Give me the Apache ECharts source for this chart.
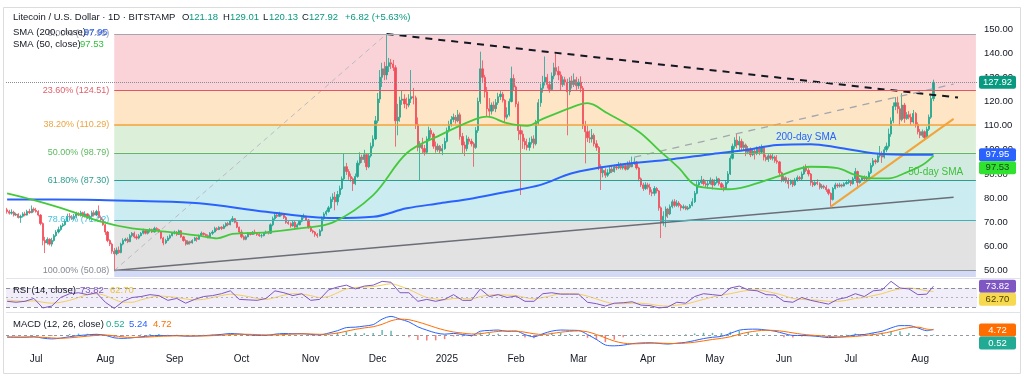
<!DOCTYPE html>
<html><head><meta charset="utf-8">
<script src="https://cdn.jsdelivr.net/npm/echarts@6/dist/echarts.min.js"></script>
<style>html,body{margin:0;padding:0;background:#fff}#c{width:1024px;height:378px}</style>
</head><body><div id="c"></div><script>
// ---------- categories (daily, 2024-06-18 .. 2025-08-26) ----------
const startUTC = Date.UTC(2024, 5, 18);
const dayCount = 435;
const categories = [];
for (let k = 0; k < dayCount; k++) categories.push(new Date(startUTC + k * 864e5).toISOString().slice(0, 10));
const monthTicks = {'2024-07-01':'Jul','2024-08-01':'Aug','2024-09-01':'Sep','2024-10-01':'Oct','2024-11-01':'Nov','2024-12-01':'Dec','2025-01-01':'2025','2025-02-01':'Feb','2025-03-01':'Mar','2025-04-01':'Apr','2025-05-01':'May','2025-06-01':'Jun','2025-07-01':'Jul','2025-08-01':'Aug'};
const priceTicks = [50,60,70,80,90,100,110,120,130,140,150];

// ---------- daily OHLC (open = previous close) ----------
const firstOpen = 75.2;
const closes = [
74.5,73.8,74.2,73.0,73.4,72.0,72.5,73.5,73.0,74.5,74.0,75.5,75.0,
74.5,73.0,69.5,62.5,61.5,63.0,61.0,62.5,64.5,66.0,67.0,68.5,69.0,70.5,72.5,72.0,71.5,72.5,73.5,73.0,74.0,72.5,73.5,72.0,72.5,74.0,73.0,74.5,72.0,71.0,69.0,
66.0,62.5,61.0,58.0,57.0,58.5,57.5,61.0,62.5,63.0,62.0,64.5,65.5,64.0,63.5,64.5,65.5,66.5,65.5,66.5,67.0,66.0,67.5,67.0,66.0,63.5,61.5,62.5,63.5,64.5,65.5,
66.0,65.0,66.5,64.0,62.5,61.0,62.0,61.5,62.5,63.5,63.0,64.5,65.5,65.0,64.5,64.0,65.5,66.0,67.5,67.0,68.0,67.5,68.5,69.5,69.0,70.5,71.5,70.0,68.0,66.0,
64.0,63.0,64.0,65.5,65.0,66.0,65.5,65.0,64.5,64.5,65.5,66.0,65.5,69.0,71.5,73.0,72.5,73.5,73.0,72.0,70.0,69.5,68.5,70.0,68.0,69.0,70.5,72.0,72.5,71.0,68.0,
66.5,66.0,65.0,64.5,66.5,71.5,73.5,74.5,76.0,79.5,80.5,78.5,81.5,84.0,88.0,93.0,91.0,89.0,88.0,86.0,89.0,94.5,97.0,96.0,98.0,93.0,97.5,101.5,104.5,112.0,
121.0,130.0,133.5,131.0,134.5,136.0,135.5,134.0,112.0,113.5,120.5,121.0,119.0,118.5,121.0,122.0,121.5,110.5,101.0,102.0,100.5,99.0,104.5,108.0,106.5,101.5,100.0,101.5,99.5,100.5,103.5,
108.0,110.5,112.5,113.5,112.0,114.5,105.5,102.0,100.5,104.5,103.5,102.5,101.0,108.0,120.0,133.5,130.0,124.0,117.0,116.0,118.5,117.0,119.5,122.0,123.0,120.5,113.5,114.5,120.0,129.5,126.0,
119.0,108.0,106.5,103.5,102.0,101.0,103.0,104.5,102.5,111.0,119.5,125.5,128.0,130.0,127.0,125.0,130.5,134.0,132.5,131.0,127.0,129.0,128.0,124.0,128.5,127.0,129.0,126.5,
128.0,125.5,110.0,107.5,105.0,104.5,106.0,102.5,101.0,93.0,90.5,91.5,89.5,90.5,92.0,91.0,93.0,92.5,94.0,92.5,93.5,92.0,94.5,93.0,94.5,95.0,92.5,88.0,85.5,84.0,85.5,
84.5,82.5,82.0,84.0,83.0,76.0,70.0,72.5,75.5,73.5,76.5,78.5,77.0,78.0,77.0,76.0,76.5,75.5,76.0,77.0,78.5,82.0,85.5,86.5,87.5,86.0,85.5,86.0,87.5,85.5,
86.5,88.0,86.0,84.5,84.0,86.5,90.0,96.5,101.5,104.0,102.0,103.5,101.0,102.0,99.0,100.5,98.0,99.5,98.5,100.5,99.0,101.0,97.0,96.0,97.5,96.5,97.0,95.5,95.0,90.5,87.5,
88.5,87.0,86.0,87.0,85.5,87.5,88.5,88.0,90.0,92.5,91.5,90.0,86.5,85.5,86.5,86.0,84.5,85.0,84.5,83.5,82.0,79.5,84.0,85.5,85.0,85.5,85.0,86.0,86.5,87.0,
86.0,88.0,91.0,86.5,87.5,88.5,88.0,88.5,90.5,93.5,95.5,95.0,97.5,98.5,97.0,100.0,101.5,106.5,112.0,118.0,119.5,117.0,112.5,118.5,113.0,114.5,113.5,111.5,115.0,110.5,107.5,
106.0,107.5,105.0,108.5,113.5,121.18,127.92];
const highs = [
76.0,75.2,75.4,74.8,74.0,73.8,73.2,74.2,74.4,75.2,75.6,77.0,76.2,
76.0,75.0,73.4,70.0,64.0,63.8,63.4,63.6,65.2,66.8,68.2,69.0,69.8,71.2,73.6,73.8,73.0,73.5,74.4,74.2,74.8,74.4,74.6,73.8,73.2,74.8,75.0,75.2,77.0,72.8,71.6,
69.4,66.4,63.0,61.6,59.4,59.6,60.0,61.6,63.4,63.6,63.8,65.2,66.0,66.2,65.0,65.2,66.0,67.4,67.0,67.2,67.6,67.4,68.2,68.0,67.4,66.2,64.0,63.2,64.4,65.0,66.0,
66.6,66.4,67.0,66.8,64.4,63.0,62.6,62.4,63.0,64.0,64.0,65.0,66.2,65.8,65.4,65.0,66.0,66.8,68.2,68.0,68.4,68.4,69.2,70.0,70.2,71.2,72.6,71.8,70.4,68.2,
67.0,64.6,64.6,66.0,65.8,66.4,67.0,66.0,65.6,65.2,66.0,66.6,66.4,69.6,72.4,73.8,73.6,74.4,74.0,73.4,72.6,70.6,70.0,70.6,70.6,69.6,71.0,72.6,73.6,72.8,71.4,
68.6,67.0,66.4,65.6,67.2,72.4,74.2,75.2,76.8,80.6,82.0,82.6,83.0,85.2,89.0,98.6,94.6,92.0,90.2,88.6,90.2,95.6,99.0,98.0,100.0,98.6,98.6,103.0,106.0,114.0,
123.5,133.0,136.0,136.4,147.95,138.0,137.6,137.2,135.0,119.0,122.0,124.6,123.0,121.6,123.0,133.0,125.6,122.4,113.4,103.6,105.0,102.0,105.6,109.6,109.0,107.2,103.4,102.6,102.0,102.4,105.0,
109.2,112.0,114.0,115.0,114.4,116.5,115.4,107.0,103.4,106.0,105.4,104.6,103.2,109.4,121.6,140.6,137.0,131.0,126.0,121.4,119.6,120.0,121.0,123.6,124.4,124.0,121.0,117.6,121.2,134.4,131.2,
126.6,120.0,110.0,108.0,105.0,104.6,105.0,105.6,106.0,112.4,121.0,127.4,130.6,138.6,131.4,128.4,132.0,136.0,140.0,134.6,132.4,130.4,130.2,129.4,130.0,130.6,131.6,130.2,
129.4,130.4,126.4,112.0,110.0,108.0,108.6,106.8,104.0,101.6,94.0,93.0,92.4,92.0,93.0,93.4,93.8,94.0,95.0,94.6,94.2,94.0,95.2,95.6,97.2,96.8,95.4,93.0,88.6,86.4,86.6,
86.4,86.0,83.6,85.0,84.6,83.4,76.6,74.6,76.6,76.0,77.4,79.4,79.6,79.2,78.8,77.6,77.4,77.0,76.8,77.6,80.0,83.0,87.0,87.6,89.2,88.0,87.0,87.4,88.6,88.0,
87.8,89.0,88.4,86.6,85.6,87.2,91.2,97.6,102.6,105.2,106.8,105.6,104.6,103.4,102.6,101.6,101.0,100.6,100.4,101.4,101.6,102.2,101.6,98.0,98.2,98.2,98.4,97.6,97.8,95.4,91.0,
89.4,89.0,88.4,87.8,87.6,88.4,89.4,89.2,91.0,93.4,94.0,92.4,90.4,87.2,87.0,87.8,86.6,85.8,85.6,85.4,84.0,82.4,84.6,86.4,86.2,86.4,86.0,86.6,87.2,87.8,
87.4,88.8,92.5,91.4,88.2,89.0,89.4,89.2,91.2,94.6,96.6,96.2,98.4,101.6,99.4,101.2,103.0,108.8,113.4,119.6,121.8,122.0,118.0,123.4,119.4,115.6,116.0,115.0,116.5,115.6,111.4,
108.6,108.4,108.0,109.6,114.6,122.4,129.01];
const lows = [
73.6,73.2,73.2,72.4,72.6,71.6,69.8,72.0,72.5,72.8,73.5,73.8,74.2,
74.0,72.5,68.8,60.5,57.3,60.8,60.4,60.0,62.0,64.0,65.4,66.5,68.0,68.6,70.2,71.0,71.0,70.8,71.8,72.6,72.4,72.0,72.0,71.4,70.8,72.2,72.4,72.6,71.6,70.4,68.6,
64.8,61.8,60.2,57.0,50.08,56.4,57.0,57.2,60.5,62.0,61.4,61.8,63.8,63.4,62.8,63.0,64.2,65.0,65.0,65.0,65.8,65.6,65.8,66.4,65.6,63.0,60.5,61.0,62.2,63.0,64.2,
65.0,64.4,64.8,63.6,62.0,60.4,60.8,60.8,61.2,62.2,62.0,62.8,64.2,64.6,64.0,63.4,63.8,64.8,65.8,66.4,66.8,66.8,67.2,68.0,68.4,68.8,70.2,69.6,67.6,65.4,
63.4,62.6,62.6,63.8,64.6,64.8,65.0,64.4,64.0,63.6,64.2,65.2,65.0,65.2,68.4,71.0,71.8,72.2,72.6,71.4,69.4,69.0,67.8,68.2,67.4,67.8,68.8,70.0,71.6,70.6,67.4,
66.0,65.4,64.0,63.6,64.2,66.2,71.0,72.8,74.0,75.6,78.4,75.0,77.0,80.4,83.4,87.4,89.6,87.6,86.8,83.0,85.4,88.4,93.6,94.6,94.6,91.6,92.4,96.8,100.6,104.0,
111.0,119.4,126.0,128.8,129.0,132.2,133.4,132.6,101.3,106.0,111.6,118.6,117.2,116.8,117.6,119.4,118.8,108.6,99.4,87.5,98.6,97.6,98.2,103.6,105.0,100.4,98.8,99.2,98.6,97.8,100.0,
103.0,107.2,109.6,111.4,110.8,111.4,104.2,98.6,97.4,99.4,102.2,101.4,93.0,100.4,107.0,119.0,127.6,121.6,113.8,113.6,114.6,116.0,115.6,118.6,120.6,119.6,111.0,112.6,113.8,119.6,124.4,
117.6,104.0,81.3,100.4,100.2,99.8,99.6,102.2,100.6,101.8,110.2,117.8,123.6,126.6,125.4,123.6,124.4,129.2,131.0,128.8,124.6,126.0,126.6,106.0,122.6,125.4,126.0,124.8,
125.2,123.8,108.6,94.4,103.2,102.8,103.0,101.4,99.6,91.6,83.4,88.6,88.4,88.8,90.0,90.4,90.6,91.6,92.0,91.8,91.8,91.4,91.6,92.4,92.8,93.8,91.8,87.0,84.6,83.0,83.4,
83.6,81.4,80.8,81.0,82.0,74.8,63.5,68.6,68.0,71.8,73.0,75.8,76.2,76.4,76.2,74.8,75.4,75.0,75.0,75.6,76.6,78.0,81.6,84.4,85.8,85.2,84.6,84.0,85.6,83.6,
85.0,86.0,85.2,83.8,82.8,83.4,85.8,89.6,96.0,100.4,100.6,99.4,99.4,99.6,97.4,98.2,97.0,97.4,96.0,97.8,97.8,98.4,95.6,95.2,95.0,95.8,95.6,94.6,94.2,89.4,86.6,
86.8,86.2,84.0,85.4,84.6,85.0,86.8,87.2,87.4,89.6,90.8,89.0,85.2,84.6,85.0,85.4,83.6,83.8,83.8,82.6,81.2,76.5,79.0,83.6,84.2,84.4,84.4,84.8,85.6,85.8,
85.0,85.6,87.6,84.0,86.0,87.0,87.2,87.2,88.0,90.0,92.8,94.0,94.6,96.8,94.6,96.4,99.0,100.6,105.4,111.0,116.4,115.0,110.0,111.8,111.2,112.4,112.6,110.2,110.8,109.2,106.4,
104.8,105.2,104.0,104.6,107.8,112.8,120.13];

// ---------- moving averages read at sample days [dayIndex, value] ----------
const sma200 = [[0,79.5],[20,79.5],[41,79.3],[60,78.8],[86,77.9],[116,74.4],[146,71.8],[164,72.3],[179,75.8],[194,77.9],[209,80.0],[224,82.7],[239,85.5],[253,90.3],[271,93.4],[298,96.1],[316,98.3],[331,99.9],[345,102.0],[360,102.3],[372,101.0],[388,98.6],[402,98.0],[415,97.95]];
const sma50 = [[0,82.0],[12,79.2],[27,75.1],[42,70.3],[56,67.5],[72,66.1],[86,64.5],[94,63.4],[101,65.2],[116,65.9],[131,67.5],[146,70.0],[164,81.3],[179,98.6],[194,106.1],[209,112.4],[215,113.7],[224,111.0],[233,109.9],[239,112.4],[253,117.6],[260,119.3],[269,115.1],[283,107.5],[292,99.9],[301,92.4],[308,85.5],[316,84.1],[323,83.7],[331,84.8],[345,88.9],[360,93.0],[372,92.4],[380,89.6],[388,88.2],[395,88.2],[402,90.3],[410,93.7],[415,97.53]];

// ---------- indicator readings, every 4th day + last day ----------
const indIdx = [];
for (let i = 0; i <= 412; i += 4) indIdx.push(i);
indIdx.push(415);
const rsiVals = [42,40,42,48,28,32,50,58,60,56, 60,40,27,42,50,52,56,54,44,48, 38,46,52,54,58,64,46,45,44,48, 64,60,54,58,44,46,66,72,76,68, 74,76,84,82,60,60,42,46,42,46, 56,44,44,68,52,56,50,53,42,42, 58,60,57,57,57,40,37,32,38,39, 41,34,33,28,30,40,38,52,58,56, 54,70,74,66,64,56,55,42,40,50, 44,40,36,46,50,58,52,64,66,84, 70,68,56,57,73.82];
const rsiMaVals = [45,43,42,43,40,38,40,44,50,56, 58,54,46,40,40,45,50,53,52,50, 47,45,46,50,54,57,55,52,48,46, 50,55,58,57,54,50,52,60,68,71, 72,73,76,79,74,67,58,50,47,45, 48,48,47,52,55,56,55,54,50,47, 50,54,58,58,57,53,47,41,37,37, 38,38,36,33,32,34,36,41,46,51, 55,58,62,65,66,63,59,54,48,46, 45,44,42,42,44,48,50,54,58,64, 68,70,68,64,62.70];
const macdVals = [-2.0,-2.0,-2.0,-1.5,-2.8,-3.5,-2.8,-1.5,-0.5,0.2, 0.7,-0.2,-2.5,-3.0,-2.5,-1.6,-0.8,-0.3,-0.5,-0.4, -1.0,-0.9,-0.5,0.0,0.6,1.4,1.0,0.2,-0.2,-0.3, 0.8,1.4,1.2,1.3,0.6,0.1,1.8,4.0,6.8,7.2, 8.2,9.5,14.5,17.0,14.5,12.0,7.5,4.5,2.0,0.8, 1.5,0.5,-0.5,3.5,4.2,4.6,3.4,3.6,0.4,-1.6, 1.2,3.6,4.6,4.4,4.2,0.5,-4.0,-9.0,-9.8,-9.2, -7.8,-7.2,-7.0,-7.6,-8.2,-7.4,-6.6,-5.0,-3.2,-2.0, -1.2,1.5,4.5,5.3,5.4,4.6,3.5,1.4,-0.3,-0.4, -0.7,-1.4,-2.3,-2.0,-1.3,0.2,0.5,2.0,3.5,6.5, 8.6,8.6,6.5,4.0,5.24];
const signalVals = [-1.5,-1.8,-1.9,-1.8,-2.0,-2.6,-2.9,-2.5,-1.8,-1.0, -0.3,0.1,-0.7,-1.7,-2.2,-2.1,-1.7,-1.2,-0.9,-0.7, -0.7,-0.8,-0.8,-0.5,-0.2,0.4,0.8,0.7,0.4,0.1, 0.1,0.5,0.9,1.1,1.0,0.7,0.9,1.8,3.5,5.2, 6.5,7.6,9.8,13.0,14.5,14.0,12.0,9.5,6.8,4.5, 2.8,1.8,1.0,1.2,2.4,3.3,3.7,3.6,2.6,1.2, 0.5,1.4,2.6,3.4,3.8,3.0,0.5,-2.5,-5.5,-7.3, -8.0,-7.8,-7.4,-7.3,-7.6,-7.7,-7.3,-6.5,-5.3,-4.0, -3.0,-1.5,0.7,2.6,3.8,4.4,4.2,3.3,2.0,0.8, 0.0,-0.6,-1.3,-1.7,-1.7,-1.2,-0.5,0.4,1.5,3.1, 5.2,6.8,7.2,5.4,4.72];
const histVals = [-0.5,-0.2,-0.1,0.3,-0.8,-0.9,0.1,1.0,1.3,1.2, 1.0,-0.3,-1.8,-1.3,-0.3,0.5,0.9,0.9,0.4,0.3, -0.3,-0.1,0.3,0.5,0.8,1.0,0.2,-0.5,-0.6,-0.4, 0.7,0.9,0.3,0.2,-0.4,-0.6,0.9,2.2,3.3,2.0, 1.7,1.9,4.7,4.0,0.0,-2.0,-4.5,-5.0,-4.8,-3.7, -1.3,-1.3,-1.5,2.3,1.8,1.3,-0.3,0.0,-2.2,-2.8, 0.7,2.2,2.0,1.0,0.4,-2.5,-4.5,-6.5,-4.3,-1.9, 0.2,0.6,0.4,-0.3,-0.6,0.3,0.7,1.5,2.1,2.0, 1.8,3.0,3.8,2.7,1.6,0.2,-0.7,-1.9,-2.3,-1.2, -0.7,-0.8,-1.0,-0.3,0.4,1.4,1.0,1.6,2.0,3.4, 3.4,1.8,-0.7,-1.4,0.52];

// ---------- fibonacci retracement (anchor Aug 5 2024 low -> Dec 5 2024 high) ----------
const fibStart = 48, fibEnd = 434;
const fibLevels = [
 {label:'0.00% (147.95)', value:147.95, line:'#a3a6af', text:'#9598a1', w:1},
 {label:'23.60% (124.51)', value:124.51, line:'#e25563', text:'#e0606c', w:1},
 {label:'38.20% (110.29)', value:110.29, line:'#f5a23a', text:'#eea441', w:1.6},
 {label:'50.00% (98.79)', value:98.79, line:'#62b766', text:'#5db85f', w:1},
 {label:'61.80% (87.30)', value:87.30, line:'#2a9d8f', text:'#2a9d8f', w:1},
 {label:'78.60% (71.02)', value:71.02, line:'#3cb2bd', text:'#3fbfdc', w:1},
 {label:'100.00% (50.08)', value:50.08, line:'#8e919a', text:'#868993', w:1}
];
const fibZones = [
 {from:124.51, to:147.95, color:'#f9d3d7'},
 {from:110.29, to:124.51, color:'#fde5c6'},
 {from:98.79, to:110.29, color:'#dcefd8'},
 {from:87.30, to:98.79, color:'#d2ebe0'},
 {from:71.02, to:87.30, color:'#cbecf1'},
 {from:50.08, to:71.02, color:'#e2e2e2'},
 {from:47.4, to:50.08, color:'#d3daf5'}
];
const trendLines = [
 {pts:[[48,50.08],[170,147.95]], color:'#b9bcc4', width:1, type:[5,4]},
 {pts:[[170,147.95],[426,121.6]], color:'#131722', width:2, type:[7,6]},
 {pts:[[281,97.0],[424,127.2]], color:'#a3a6ae', width:1.3, type:[7,6]},
 {pts:[[48,50.08],[424,80.4]], color:'#6b6e78', width:1.5, type:'solid'},
 {pts:[[369,76.5],[424,112.8]], color:'#f2a43a', width:2, type:'solid'}
];
const lastPrice = 127.92;

// ---------- build ----------
const FONT = '"Liberation Sans", Arial, sans-serif';
const cat = i => categories[i];
const candles = closes.map((c, i) => [i ? closes[i - 1] : firstOpen, c, lows[i], highs[i]]);
const pairs = arr => arr.map(([i, v]) => [cat(i), v]);
const indPairs = vals => vals.map((v, k) => [cat(indIdx[k]), v]);

const chart = echarts.init(document.getElementById('c'), null, {renderer:'canvas'});
const xAxes = [0,1,2].map(g => ({
  type:'category', gridIndex:g, data:categories, boundaryGap:true,
  axisLine:{show:false}, axisTick:{show:false}, splitLine:{show:false},
  axisLabel: g === 2 ? {show:true, interval:(i, v) => v in monthTicks, formatter:v => monthTicks[v] || '', color:'#131722', fontSize:10, fontFamily:FONT, margin:4, hideOverlap:false} : {show:false}
}));
const series = [];
series.push({
  type:'candlestick', name:'LTC', xAxisIndex:0, yAxisIndex:0, data:candles, barWidth:1.7, z:3,
  itemStyle:{color:'#1fa58f', color0:'#f24c5a', borderColor:'#1fa58f', borderColor0:'#f24c5a', borderWidth:0.8},
  markArea:{silent:true, z:1, data: fibZones.map(z => [{xAxis:cat(fibStart), yAxis:z.from, itemStyle:{color:z.color, opacity:1}}, {xAxis:cat(fibEnd), yAxis:z.to}])},
  markLine:{silent:true, symbol:'none', animation:false,
    data: fibLevels.map(f => [{xAxis:cat(fibStart), yAxis:f.value, lineStyle:{color:f.line, width:f.w, type:'solid'},
        label:{show:true, position:'start', distance:5, formatter:f.label, color:f.text, fontSize:9, fontFamily:FONT}},
      {xAxis:cat(fibEnd), yAxis:f.value}]).concat([
      {yAxis:lastPrice, lineStyle:{type:'dotted', color:'#8a8d96', width:1}, label:{show:false}}])}
});
trendLines.forEach(t => series.push({type:'line', xAxisIndex:0, yAxisIndex:0, data:pairs(t.pts), symbol:'none', silent:true, z:4,
  lineStyle:{color:t.color, width:t.width, type:t.type}}));
series.push({type:'line', name:'SMA200', xAxisIndex:0, yAxisIndex:0, data:pairs(sma200), smooth:0.35, symbol:'none', z:5, lineStyle:{color:'#2962ff', width:2}});
series.push({type:'line', name:'SMA50', xAxisIndex:0, yAxisIndex:0, data:pairs(sma50), smooth:0.35, symbol:'none', z:5, lineStyle:{color:'#45c93c', width:1.8}});
// RSI
series.push({type:'line', name:'RSI', xAxisIndex:1, yAxisIndex:1, data:indPairs(rsiVals), symbol:'none', z:5, lineStyle:{color:'#7e57c2', width:1},
  markArea:{silent:true, data:[[{yAxis:30, itemStyle:{color:'rgba(126,87,194,0.10)'}},{yAxis:70}]]},
  markLine:{silent:true, symbol:'none', label:{show:false}, lineStyle:{color:'#8d909a', type:[4,3], width:1},
    data:[{yAxis:70},{yAxis:50, lineStyle:{color:'#b0b3bb', type:[2,3]}},{yAxis:30}]}});
series.push({type:'line', name:'RSI MA', xAxisIndex:1, yAxisIndex:1, data:indPairs(rsiMaVals), symbol:'none', smooth:0.3, z:4, lineStyle:{color:'#f1cf5e', width:1}});
// MACD
series.push({type:'bar', name:'Hist', xAxisIndex:2, yAxisIndex:2, barWidth:1.5,
  data: histVals.map((v, k) => ({value:[cat(indIdx[k]), v], itemStyle:{color: v >= 0 ? 'rgba(38,166,154,0.75)' : 'rgba(239,83,80,0.75)'}})),
  markLine:{silent:true, symbol:'none', label:{show:false}, lineStyle:{color:'#9598a1', type:[3,3], width:1}, data:[{yAxis:0}]}});
series.push({type:'line', name:'MACD', xAxisIndex:2, yAxisIndex:2, data:indPairs(macdVals), symbol:'none', smooth:0.3, z:5, lineStyle:{color:'#2962ff', width:1}});
series.push({type:'line', name:'Signal', xAxisIndex:2, yAxisIndex:2, data:indPairs(signalVals), symbol:'none', smooth:0.3, z:5, lineStyle:{color:'#ff6d00', width:1}});

const option = {
  animation:false, backgroundColor:'#ffffff',
  grid:[{left:6, right:47, top:20, height:257},{left:6, right:47, top:279, height:32},{left:6, right:47, top:313, height:37}],
  xAxis:xAxes,
  yAxis:[
    {type:'value', gridIndex:0, position:'right', min:47.4, max:153.7, splitLine:{show:false}, axisLine:{show:false}, axisTick:{show:false},
     axisLabel:{customValues:priceTicks, formatter:v => Number(v).toFixed(2), color:'#131722', fontSize:9.5, margin:7, fontFamily:FONT}},
    {type:'value', gridIndex:1, position:'right', min:21.6, max:88.9, splitLine:{show:false}, axisLine:{show:false}, axisTick:{show:false}, axisLabel:{show:false}},
    {type:'value', gridIndex:2, position:'right', min:-13.6, max:20.1, splitLine:{show:false}, axisLine:{show:false}, axisTick:{show:false}, axisLabel:{show:false}}
  ],
  series
};
chart.setOption(option);

// ---------- overlay texts / tags ----------
const py = v => chart.convertToPixel({yAxisIndex:0}, v);
const ry = v => chart.convertToPixel({yAxisIndex:1}, v);
const my = v => chart.convertToPixel({yAxisIndex:2}, v);
const g = [];
function txt(text, x, y, color, size, align) {
  g.push({type:'text', x, y, z:50, silent:true, style:{text, fill:color, font:(size || 9.5) + 'px ' + FONT,
    textAlign:align || 'left', align:align || 'left', textVerticalAlign:'middle', verticalAlign:'middle'}});
}
function tags(list, yf) {
  const items = list.map(t => Object.assign({}, t, {y: yf(t.v)})).sort((a, b) => a.y - b.y);
  for (let k = 1; k < items.length; k++) if (items[k].y < items[k-1].y + 13) items[k].y = items[k-1].y + 13;
  items.forEach(t => {
    g.push({type:'rect', z:60, silent:true, shape:{x:979, y:t.y - 6.5, width:37, height:13, r:2}, style:{fill:t.bg}});
    g.push({type:'text', z:61, silent:true, x:997.5, y:t.y, style:{text:t.v.toFixed(2), fill:t.fg, font:'9.5px ' + FONT, textAlign:'center', align:'center', textVerticalAlign:'middle', verticalAlign:'middle'}});
  });
}
// frame & pane separators
g.push({type:'rect', z:0, silent:true, shape:{x:3.5, y:7.5, width:1017, height:366}, style:{fill:'none', stroke:'#dcdcdc', lineWidth:1}});
g.push({type:'line', z:40, silent:true, shape:{x1:6, y1:278.5, x2:1020, y2:278.5}, style:{stroke:'#e0e3eb', lineWidth:1}});
g.push({type:'line', z:40, silent:true, shape:{x1:6, y1:312.5, x2:1020, y2:312.5}, style:{stroke:'#e0e3eb', lineWidth:1}});
// header
const DARK = '#131722', TEAL = '#089981';
[['Litecoin / U.S. Dollar · 1D · BITSTAMP',13,DARK],['O',182,DARK],['121.18',189,TEAL],['H',223,DARK],['129.01',230,TEAL],
 ['L',263,DARK],['120.13',269,TEAL],['C',302,DARK],['127.92',309,TEAL],['+6.82 (+5.63%)',345,TEAL]].forEach(t => txt(t[0], t[1], 17, t[2]));
txt('SMA (200, close)', 13, 32, DARK); txt('97.95', 84, 32, '#2962ff');
txt('SMA (50, close)', 13, 44, DARK); txt('97.53', 80, 44, '#2fbf3a');
txt('RSI (14, close)', 13, 290, DARK); txt('73.82', 80, 290, '#7e57c2'); txt('62.70', 110, 290, '#e7c43f');
txt('MACD (12, 26, close)', 13, 324, DARK); txt('0.52', 106, 324, '#22ab94'); txt('5.24', 129, 324, '#2962ff'); txt('4.72', 153, 324, '#ff6d00');
// SMA annotations
const annotations = [{text:'200-day SMA', at:[358, 105.3], color:'#2962ff'}, {text:'50-day SMA', at:[416, 90.8], color:'#3cbf3a'}];
annotations.forEach(a => { const p = chart.convertToPixel({xAxisIndex:0, yAxisIndex:0}, [cat(a.at[0]), a.at[1]]); txt(a.text, p[0], p[1], a.color, 10, 'center'); });
// price tags
tags([{v:127.92, bg:'#089981', fg:'#fff'}, {v:97.95, bg:'#2962ff', fg:'#fff'}, {v:97.53, bg:'#2fe22f', fg:'#15461a'}], py);
tags([{v:73.82, bg:'#7e57c2', fg:'#fff'}, {v:62.70, bg:'#f6d94e', fg:'#4a3f00'}], ry);
tags([{v:4.72, bg:'#ff6d00', fg:'#fff'}, {v:0.52, bg:'#22ab94', fg:'#fff'}], my);
chart.setOption({graphic:{elements:g}});
</script></body></html>
